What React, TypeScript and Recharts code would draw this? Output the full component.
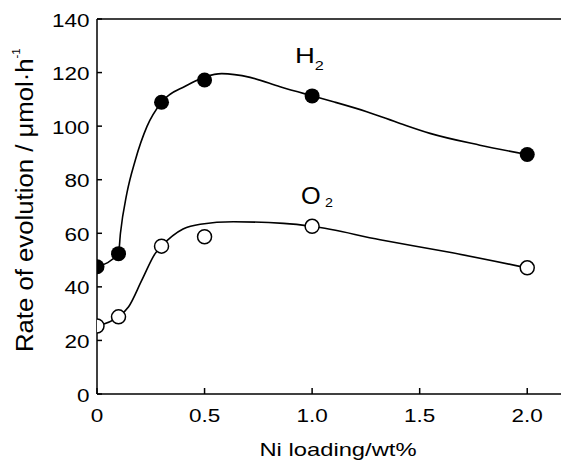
import React from "react";
import {
  ComposedChart,
  Line,
  Scatter,
  XAxis,
  YAxis,
  ReferenceLine,
} from "recharts";

// Tick values and labels
const xTicks = [0, 0.5, 1.0, 1.5, 2.0];
const xTickLabels = ["0", "0.5", "1.0", "1.5", "2.0"];
const yTicks = [0, 20, 40, 60, 80, 100, 120, 140];

// Measured points (Ni loading wt%, rate µmol/h)
const h2Points = [
  { x: 0, y: 47.5 },
  { x: 0.1, y: 52.4 },
  { x: 0.3, y: 108.9 },
  { x: 0.5, y: 117.2 },
  { x: 1.0, y: 111.3 },
  { x: 2.0, y: 89.4 },
];
const o2Points = [
  { x: 0, y: 25.4 },
  { x: 0.1, y: 28.8 },
  { x: 0.3, y: 55.2 },
  { x: 0.5, y: 58.7 },
  { x: 1.0, y: 62.6 },
  { x: 2.0, y: 47.1 },
];

// Hand-drawn fitted curves
const h2Curve = [
  { x: 0, y: 47.5 },
  { x: 0.1, y: 52.5 },
  { x: 0.109, y: 60 },
  { x: 0.139, y: 75 },
  { x: 0.178, y: 87.3 },
  { x: 0.232, y: 99.8 },
  { x: 0.3, y: 108.9 },
  { x: 0.41, y: 114.9 },
  { x: 0.58, y: 119.6 },
  { x: 0.712, y: 118.2 },
  { x: 0.851, y: 114.7 },
  { x: 1.0, y: 111.3 },
  { x: 1.099, y: 109.1 },
  { x: 1.254, y: 105.4 },
  { x: 1.409, y: 101.0 },
  { x: 1.548, y: 97.3 },
  { x: 1.78, y: 92.9 },
  { x: 2.0, y: 89.4 },
];
const o2Curve = [
  { x: 0, y: 25.4 },
  { x: 0.1, y: 28.9 },
  { x: 0.147, y: 32.6 },
  { x: 0.209, y: 42.6 },
  { x: 0.271, y: 52.5 },
  { x: 0.3, y: 55.2 },
  { x: 0.4, y: 61.6 },
  { x: 0.48, y: 63.4 },
  { x: 0.634, y: 64.3 },
  { x: 0.867, y: 63.7 },
  { x: 1.0, y: 62.6 },
  { x: 1.316, y: 57.6 },
  { x: 1.626, y: 53.1 },
  { x: 2.0, y: 47.1 },
];

const FONT = "'Liberation Sans', Arial, Helvetica, sans-serif";

function XTick(props: any) {
  const { x, y, payload } = props;
  const i = xTicks.indexOf(payload.value);
  return (
    <g>
      <line x1={x} x2={x} y1={y} y2={y - 6} stroke="#000" strokeWidth={1.5} />
      <text
        transform={`translate(${x},${y + 28}) scale(1.25,1)`}
        textAnchor="middle"
        fontSize={18}
        fontFamily={FONT}
        fill="#000"
      >
        {i >= 0 ? xTickLabels[i] : payload.value}
      </text>
    </g>
  );
}

function YTick(props: any) {
  const { x, y, payload } = props;
  return (
    <g>
      <line x1={x} x2={x + 5} y1={y} y2={y} stroke="#000" strokeWidth={1.5} />
      <text
        transform={`translate(${x - 7.5},${y + 7.5}) scale(1.25,1)`}
        textAnchor="end"
        fontSize={18}
        fontFamily={FONT}
        fill="#000"
      >
        {payload.value}
      </text>
    </g>
  );
}

const FilledDot = (p: any) => <circle cx={p.cx} cy={p.cy} r={7.5} fill="#000" />;
const OpenDot = (p: any) => (
  <circle cx={p.cx} cy={p.cy} r={7} fill="#fff" stroke="#000" strokeWidth={1.5} />
);

export default function App() {
  return (
    <div style={{ position: "absolute", left: 0, top: 0, width: 561, height: 460, background: "#fff" }}>
      <ComposedChart
        width={561}
        height={460}
        margin={{ top: 19, right: 0, bottom: 0, left: 0 }}
      >
        <XAxis
          type="number"
          dataKey="x"
          domain={[0, 2.157]}
          allowDataOverflow
          ticks={xTicks}
          interval={0}
          height={66}
          axisLine={{ stroke: "#000", strokeWidth: 1.5 }}
          tickLine={false}
          tickSize={0}
          tickMargin={0}
          tick={<XTick />}
        />
        <YAxis
          type="number"
          domain={[0, 140]}
          ticks={yTicks}
          interval={0}
          width={97}
          axisLine={{ stroke: "#000", strokeWidth: 1.5 }}
          tickLine={false}
          tickSize={0}
          tickMargin={0}
          tick={<YTick />}
        />
        <ReferenceLine y={140} stroke="#000" strokeWidth={1.5} />
        <Line
          data={h2Curve}
          dataKey="y"
          type="monotone"
          stroke="#000"
          strokeWidth={1.6}
          dot={false}
          activeDot={false}
          isAnimationActive={false}
        />
        <Line
          data={o2Curve}
          dataKey="y"
          type="monotone"
          stroke="#000"
          strokeWidth={1.6}
          dot={false}
          activeDot={false}
          isAnimationActive={false}
        />
        <Scatter data={h2Points} dataKey="y" shape={FilledDot} isAnimationActive={false} />
        <Scatter data={o2Points} dataKey="y" shape={OpenDot} isAnimationActive={false} />
      </ComposedChart>
      <svg
        width={561}
        height={460}
        style={{ position: "absolute", left: 0, top: 0, pointerEvents: "none" }}
      >
        <text
          transform="translate(338,456) scale(1.25,1)"
          textAnchor="middle"
          fontSize={19}
          fontFamily={FONT}
          fill="#000"
        >
          Ni loading/wt%
        </text>
        <text
          transform="translate(33,352) rotate(-90) scale(1.05,1)"
          textAnchor="start"
          fontSize={24.5}
          fontFamily={FONT}
          fill="#000"
        >
          Rate of evolution / μmol·h
          <tspan fontSize={11} dy={-13}>-1</tspan>
        </text>
        <text transform="translate(295,63) scale(1.25,1)" fontSize={22} fontFamily={FONT} fill="#000">
          H
          <tspan fontSize={13} dy={7}>2</tspan>
        </text>
        <text transform="translate(301,204) scale(1.1,1)" fontSize={23} fontFamily={FONT} fill="#000">
          O
          <tspan fontSize={13} dx={4} dy={3}>2</tspan>
        </text>
      </svg>
    </div>
  );
}
